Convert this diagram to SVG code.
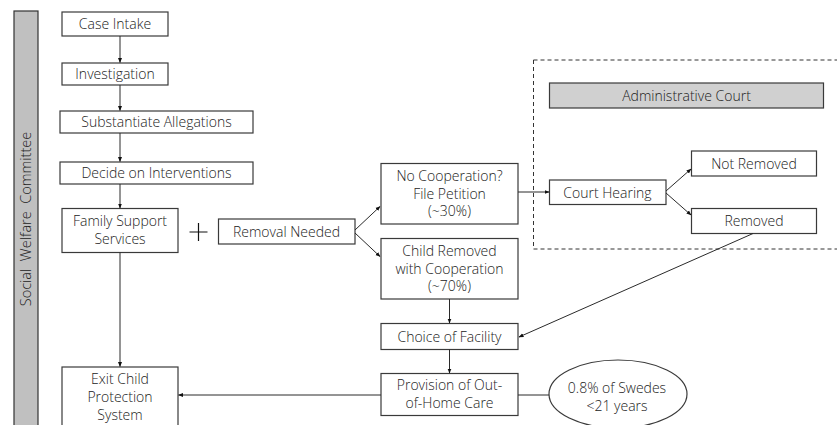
<svg xmlns="http://www.w3.org/2000/svg" width="837" height="425" viewBox="0 0 837 425">
<defs>
<style>
.b{fill:#fff;stroke:#3a3a3a;stroke-width:1.2}
.t{font-family:"Open Sans","Noto Sans",sans-serif;font-size:14px;font-weight:300;fill:#222;text-anchor:middle}
.c{stroke:#2a2a2a;stroke-width:1;fill:none}
</style>
<marker id="a" viewBox="0 0 10 10" refX="9" refY="5" markerWidth="5" markerHeight="5" orient="auto"><path d="M0,1 L10,5 L0,9 z" fill="#111"/></marker>
</defs>
<rect width="837" height="425" fill="#fff"/>
<g id="bar">
<rect x="14" y="11" width="24" height="420" fill="#c0c0c0" stroke="#333" stroke-width="1.2"/>
<text class="t" style="font-size:14.5px;white-space:pre" xml:space="preserve" transform="translate(31,219) rotate(-90)">Social  Welfare  Committee</text>
</g>
<g id="court-area">
<rect x="533.5" y="60" width="310" height="189" fill="none" stroke="#333" stroke-width="1" stroke-dasharray="4,3"/>
</g>
<g id="admin-court"><rect x="549.5" y="83" width="274" height="25" fill="#d0d0d0" stroke="#3a3a3a" stroke-width="1.2"/><text class="t" x="686.5" y="100.5">Administrative Court</text></g>
<g id="case-intake"><rect class="b" x="62" y="12" width="106" height="24"/><text class="t" x="115" y="29">Case Intake</text></g>
<g id="investigation"><rect class="b" x="62" y="63" width="106" height="22"/><text class="t" x="115" y="79">Investigation</text></g>
<g id="substantiate"><rect class="b" x="60" y="111" width="193" height="22"/><text class="t" x="156.5" y="127">Substantiate Allegations</text></g>
<g id="decide"><rect class="b" x="60" y="162" width="193" height="22"/><text class="t" x="156.5" y="178">Decide on Interventions</text></g>
<g id="family"><rect class="b" x="62" y="208.5" width="116" height="44"/><text class="t" x="120" y="226">Family Support</text><text class="t" x="120" y="243.5">Services</text></g>
<g id="plus"><path d="M189.5,232 H207.5 M198.5,223 V241" stroke="#111" stroke-width="1.2"/></g>
<g id="removal"><rect class="b" x="218.5" y="219" width="136.5" height="25"/><text class="t" x="286.5" y="236.5">Removal Needed</text></g>
<g id="no-coop"><rect class="b" x="381" y="163.5" width="137" height="60.5"/><text class="t" x="449.5" y="181">No Cooperation?</text><text class="t" x="449.5" y="198.5">File Petition</text><text class="t" x="449.5" y="216">(~30%)</text></g>
<g id="child-removed"><rect class="b" x="381" y="238.5" width="137" height="60.5"/><text class="t" x="449.5" y="256">Child Removed</text><text class="t" x="449.5" y="273.5">with Cooperation</text><text class="t" x="449.5" y="291">(~70%)</text></g>
<g id="choice"><rect class="b" x="381" y="323.5" width="137" height="26"/><text class="t" x="449.5" y="341.5">Choice of Facility</text></g>
<g id="provision"><rect class="b" x="381" y="373.5" width="137" height="42"/><text class="t" x="449.5" y="390">Provision of Out-</text><text class="t" x="449.5" y="408">of-Home Care</text></g>
<g id="swedes"><ellipse cx="618" cy="394" rx="69" ry="34" fill="#fff" stroke="#3a3a3a" stroke-width="1.2"/><text class="t" x="617" y="393">0.8% of Swedes</text><text class="t" x="617" y="411">&lt;21 years</text></g>
<g id="exit"><rect class="b" x="62" y="367" width="116" height="70"/><text class="t" x="120" y="384">Exit Child</text><text class="t" x="120" y="402">Protection</text><text class="t" x="120" y="420">System</text></g>
<g id="court-hearing"><rect class="b" x="549.5" y="180" width="116.5" height="24.5"/><text class="t" x="607.5" y="197.5">Court Hearing</text></g>
<g id="not-removed"><rect class="b" x="691.5" y="151" width="125" height="25"/><text class="t" x="754" y="168.5">Not Removed</text></g>
<g id="removed"><rect class="b" x="691.5" y="208.5" width="125" height="25"/><text class="t" x="754" y="226">Removed</text></g>
<g id="connectors">
<line class="c" x1="120" y1="36" x2="120" y2="62.5" marker-end="url(#a)"/>
<line class="c" x1="120" y1="85" x2="120" y2="110.5" marker-end="url(#a)"/>
<line class="c" x1="120" y1="133" x2="120" y2="161.5" marker-end="url(#a)"/>
<line class="c" x1="120" y1="184" x2="120" y2="208" marker-end="url(#a)"/>
<line class="c" x1="120" y1="252.5" x2="120" y2="366.5" marker-end="url(#a)"/>
<line class="c" x1="355" y1="230" x2="380" y2="206.5" marker-end="url(#a)"/>
<line class="c" x1="355" y1="233" x2="380" y2="256.5" marker-end="url(#a)"/>
<line class="c" x1="518" y1="192" x2="549" y2="192" marker-end="url(#a)"/>
<line class="c" x1="666" y1="191" x2="691" y2="169" marker-end="url(#a)"/>
<line class="c" x1="666" y1="193" x2="691" y2="215" marker-end="url(#a)"/>
<line class="c" x1="449.5" y1="299" x2="449.5" y2="323" marker-end="url(#a)"/>
<line class="c" x1="449.5" y1="349.5" x2="449.5" y2="373" marker-end="url(#a)"/>
<line class="c" x1="753" y1="233.5" x2="519" y2="337" marker-end="url(#a)"/>
<line class="c" x1="518" y1="395" x2="549" y2="395"/>
<line class="c" x1="381" y1="395" x2="178.5" y2="395" marker-end="url(#a)"/>
</g>
</svg>
